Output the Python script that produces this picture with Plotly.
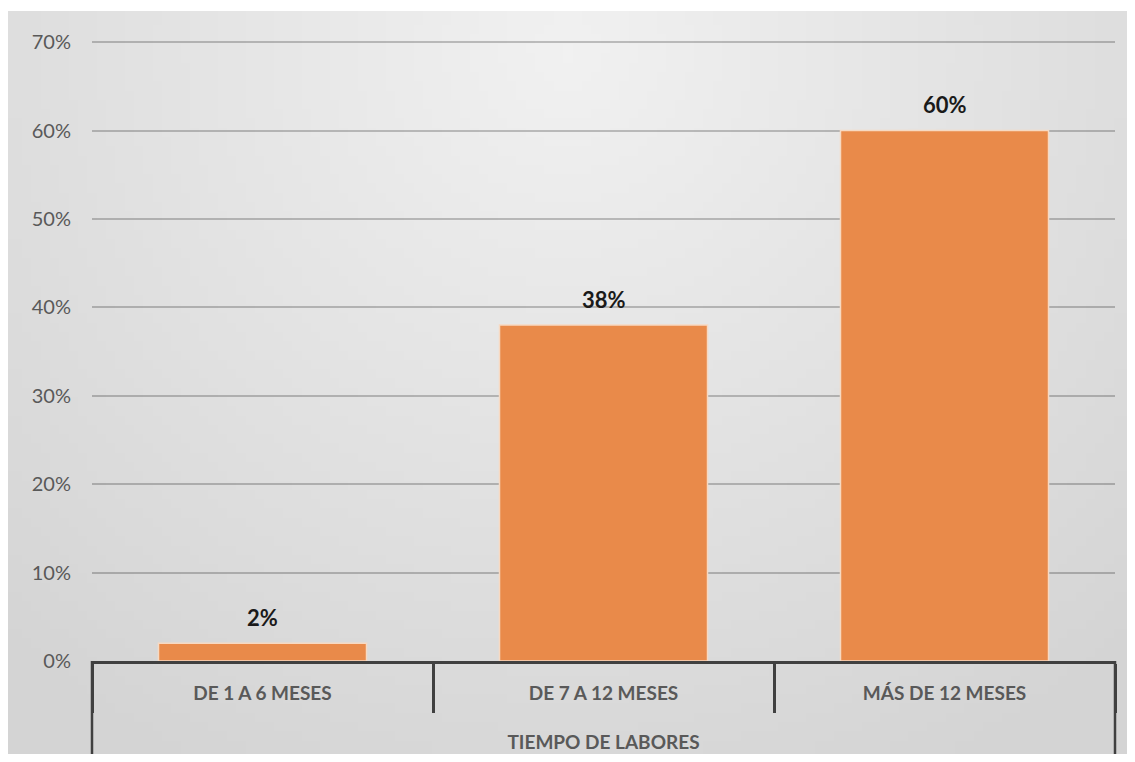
import base64, struct, zlib
import plotly.graph_objects as go

# ---- data ----
group_label = "TIEMPO DE LABORES"
categories = ["DE 1 A 6 MESES", "DE 7 A 12 MESES", "MÁS DE 12 MESES"]
values = [0.02, 0.38, 0.60]
y_ticks = [0, 0.1, 0.2, 0.3, 0.4, 0.5, 0.6, 0.7]

# ---- background gradient image (PNG built in memory) ----
def make_png(w, h):
    rows = []
    for j in range(h):
        row = bytearray([0])
        for i in range(w):
            dx = (i / (w - 1) - 0.5) / 0.75
            dy = (j / (h - 1) - 0.05) / 1.1
            d = min(1.0, (dx * dx + dy * dy) ** 0.5)
            v = int(round(241 - (241 - 212) * d))
            row += bytes([v, v, v])
        rows.append(bytes(row))
    raw = b"".join(rows)
    def chunk(t, data):
        c = struct.pack(">I", len(data)) + t + data
        return c + struct.pack(">I", zlib.crc32(t + data) & 0xffffffff)
    png = b"\x89PNG\r\n\x1a\n"
    png += chunk(b"IHDR", struct.pack(">IIBBBBB", w, h, 8, 2, 0, 0, 0))
    png += chunk(b"IDAT", zlib.compress(raw, 9))
    png += chunk(b"IEND", b"")
    return "data:image/png;base64," + base64.b64encode(png).decode()

W, H = 1119, 746
ml, mr, mt, mb = 84, 12, 32, 93
pw, ph = W - ml - mr, H - mt - mb
DARK = "#404040"

fig = go.Figure()
fig.add_trace(go.Bar(
    x=categories,
    y=values,
    width=0.61,
    marker=dict(color="#E98A4A", line=dict(color="#F7D9C2", width=1.5)),
    hoverinfo="x+y",
))

# value labels above bars
for c, v in zip(categories, values):
    fig.add_annotation(
        x=c, y=v, xref="x", yref="y", text=f"{v:.0%}", showarrow=False,
        yanchor="middle", yshift=26,
        font=dict(family="Lato", size=22, color="#1a1a1a", weight="bold"),
    )

# long outer dividers of the group level
for xd in (0, 1):
    fig.add_shape(
        type="line", xref="x domain", x0=xd, x1=xd,
        yref="paper", ysizemode="pixel", yanchor=0, y0=0, y1=-94,
        line=dict(color=DARK, width=2.5),
    )

fig.update_layout(
    width=W, height=H,
    margin=dict(l=ml, r=mr, t=mt, b=mb, autoexpand=False),
    paper_bgcolor="white",
    plot_bgcolor="rgba(0,0,0,0)",
    showlegend=False,
    images=[dict(
        source=make_png(120, 80), xref="paper", yref="paper",
        x=-ml / pw, y=1 + (mt - 3) / ph, sizex=W / pw, sizey=(H - 3) / ph,
        xanchor="left", yanchor="top", sizing="stretch", layer="below",
    )],
    xaxis=dict(
        type="category", automargin=False,
        showline=True, linecolor=DARK, linewidth=2.5,
        tickson="boundaries", ticks="outside", ticklen=49,
        tickwidth=2.5, tickcolor=DARK,
        ticklabelstandoff=13,
        tickfont=dict(family="Lato", size=19, color="#595959", weight="bold"),
        showgrid=False,
        title=dict(text=group_label, standoff=34,
                   font=dict(family="Lato", size=19, color="#595959", weight="bold")),
    ),
    yaxis=dict(
        range=[0, 0.7025], automargin=False,
        tickvals=y_ticks, tickformat=".0%",
        tickfont=dict(family="Lato", size=20, color="#595959"),
        gridcolor="rgba(0,0,0,0.22)", gridwidth=1.5,
        zeroline=False, showline=False,
        ticklabelstandoff=20,
    ),
)

fig.write_html("out.html")
